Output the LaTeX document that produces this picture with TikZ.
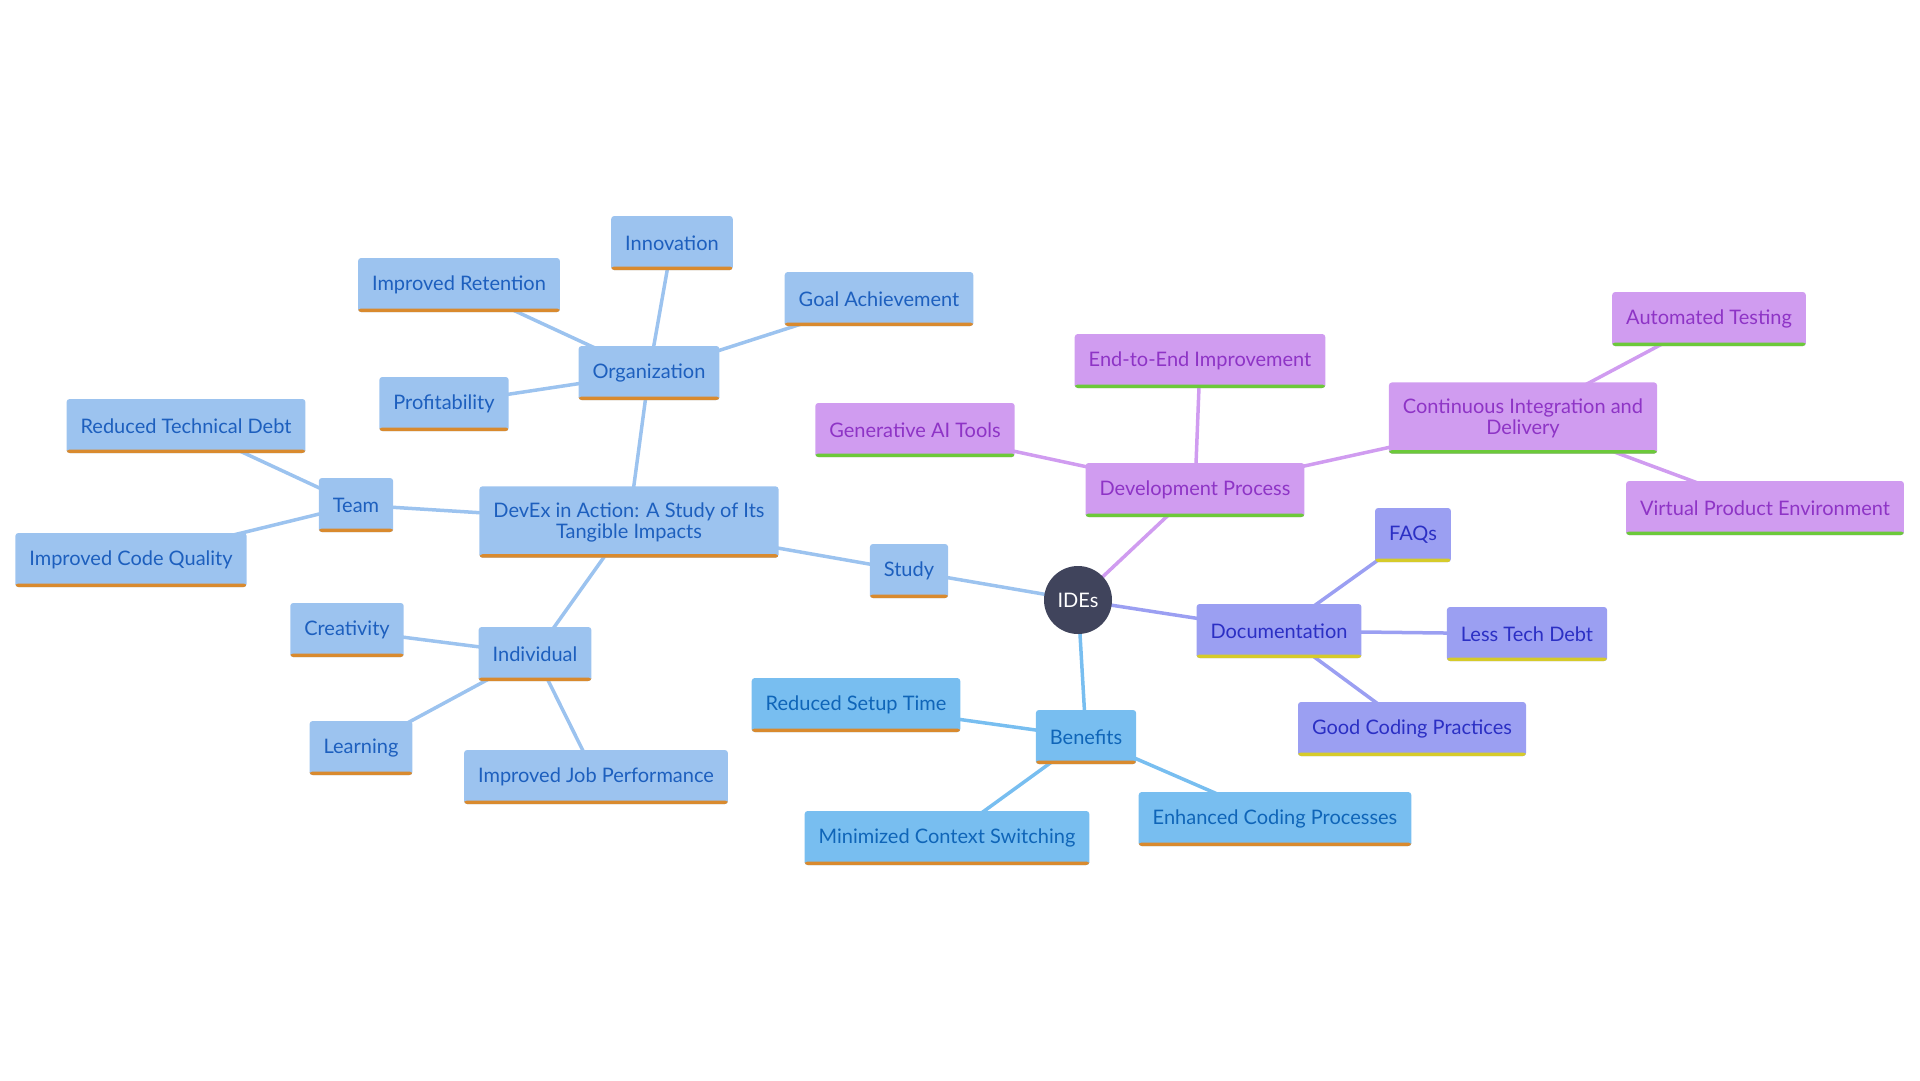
\documentclass[tikz,border=0pt]{standalone}
\usepackage{fontspec}
\setmainfont{Lato}
\usetikzlibrary{backgrounds}

\definecolor{studyfill}{HTML}{9CC3EF}
\definecolor{studytext}{HTML}{1D5FBE}
\definecolor{benefill}{HTML}{78BEF0}
\definecolor{benetext}{HTML}{0F65B8}
\definecolor{docfill}{HTML}{9B9FF2}
\definecolor{doctext}{HTML}{2B2FC4}
\definecolor{procfill}{HTML}{D09CF0}
\definecolor{proctext}{HTML}{8E34C6}
\definecolor{barorange}{HTML}{D98A2E}
\definecolor{baryellow}{HTML}{D6CB2A}
\definecolor{bargreen}{HTML}{6CC93A}
\definecolor{rootfill}{HTML}{40445C}

\tikzset{
  topic/.style={rectangle,rounded corners=3pt,inner xsep=14pt,inner ysep=16pt,
    minimum height=54pt,align=center,font=\fontsize{20}{21}\selectfont},
  bar/.style={path picture={\fill[#1] (path picture bounding box.south west)
    rectangle ([yshift=3.5pt]path picture bounding box.south east);}},
  studynode/.style={topic,fill=studyfill,text=studytext,bar=barorange},
  benenode/.style={topic,fill=benefill,text=benetext,bar=barorange},
  docnode/.style={topic,fill=docfill,text=doctext,bar=baryellow},
  procnode/.style={topic,fill=procfill,text=proctext,bar=bargreen},
  link/.style={draw=#1,line width=3.5pt}
}

\begin{document}
\begin{tikzpicture}[x=1pt,y=-1pt]
\path[use as bounding box] (0,0) rectangle (1920,1080);
% root
\node[circle,fill=rootfill,text=white,minimum size=68pt,inner sep=0pt,font=\fontsize{20}{21}\selectfont] (ides) at (1078,600) {IDEs};
% study branch
\node[studynode] (study) at (909,571) {Study};
\node[studynode] (devex) at (629,522) {DevEx in Action: A Study of Its\\Tangible Impacts};
\node[studynode] (org) at (649,373) {Organization};
\node[studynode] (innov) at (672,243) {Innovation};
\node[studynode] (retain) at (459,285) {Improved Retention};
\node[studynode] (goal) at (879,299) {Goal Achievement};
\node[studynode] (profit) at (444,404) {Profitability};
\node[studynode] (team) at (356,505) {Team};
\node[studynode] (techdebt) at (186,426) {Reduced Technical Debt};
\node[studynode] (codeq) at (131,560) {Improved Code Quality};
\node[studynode] (indiv) at (535,654) {Individual};
\node[studynode] (creat) at (347,630) {Creativity};
\node[studynode] (learn) at (361,748) {Learning};
\node[studynode] (jobperf) at (596,777) {Improved Job Performance};
% benefits branch
\node[benenode] (bene) at (1086,737) {Benefits};
\node[benenode] (setup) at (856,705) {Reduced Setup Time};
\node[benenode] (context) at (947,838) {Minimized Context Switching};
\node[benenode] (enhance) at (1275,819) {Enhanced Coding Processes};
% documentation branch
\node[docnode] (docs) at (1279,631) {Documentation};
\node[docnode] (faqs) at (1413,535) {FAQs};
\node[docnode] (lesstd) at (1527,634) {Less Tech Debt};
\node[docnode] (goodcp) at (1412,729) {Good Coding Practices};
% development process branch
\node[procnode] (devproc) at (1195,490) {Development Process};
\node[procnode] (genai) at (915,430) {Generative AI Tools};
\node[procnode] (e2e) at (1200,361) {End-to-End Improvement};
\node[procnode] (ci) at (1523,418) {Continuous Integration and\\Delivery};
\node[procnode] (autotest) at (1709,319) {Automated Testing};
\node[procnode] (vpe) at (1765,508) {Virtual Product Environment};

\begin{scope}[on background layer]
\draw[link=studyfill] (ides.center) -- (study.center);
\draw[link=studyfill] (study.center) -- (devex.center);
\draw[link=studyfill] (devex.center) -- (org.center);
\draw[link=studyfill] (org.center) -- (innov.center);
\draw[link=studyfill] (org.center) -- (retain.center);
\draw[link=studyfill] (org.center) -- (goal.center);
\draw[link=studyfill] (org.center) -- (profit.center);
\draw[link=studyfill] (devex.center) -- (team.center);
\draw[link=studyfill] (team.center) -- (techdebt.center);
\draw[link=studyfill] (team.center) -- (codeq.center);
\draw[link=studyfill] (devex.center) -- (indiv.center);
\draw[link=studyfill] (indiv.center) -- (creat.center);
\draw[link=studyfill] (indiv.center) -- (learn.center);
\draw[link=studyfill] (indiv.center) -- (jobperf.center);
\draw[link=benefill] (ides.center) -- (bene.center);
\draw[link=benefill] (bene.center) -- (setup.center);
\draw[link=benefill] (bene.center) -- (context.center);
\draw[link=benefill] (bene.center) -- (enhance.center);
\draw[link=docfill] (ides.center) -- (docs.center);
\draw[link=docfill] (docs.center) -- (faqs.center);
\draw[link=docfill] (docs.center) -- (lesstd.center);
\draw[link=docfill] (docs.center) -- (goodcp.center);
\draw[link=procfill] (ides.center) -- (devproc.center);
\draw[link=procfill] (devproc.center) -- (genai.center);
\draw[link=procfill] (devproc.center) -- (e2e.center);
\draw[link=procfill] (devproc.center) -- (ci.center);
\draw[link=procfill] (ci.center) -- (autotest.center);
\draw[link=procfill] (ci.center) -- (vpe.center);
\end{scope}
\end{tikzpicture}
\end{document}
